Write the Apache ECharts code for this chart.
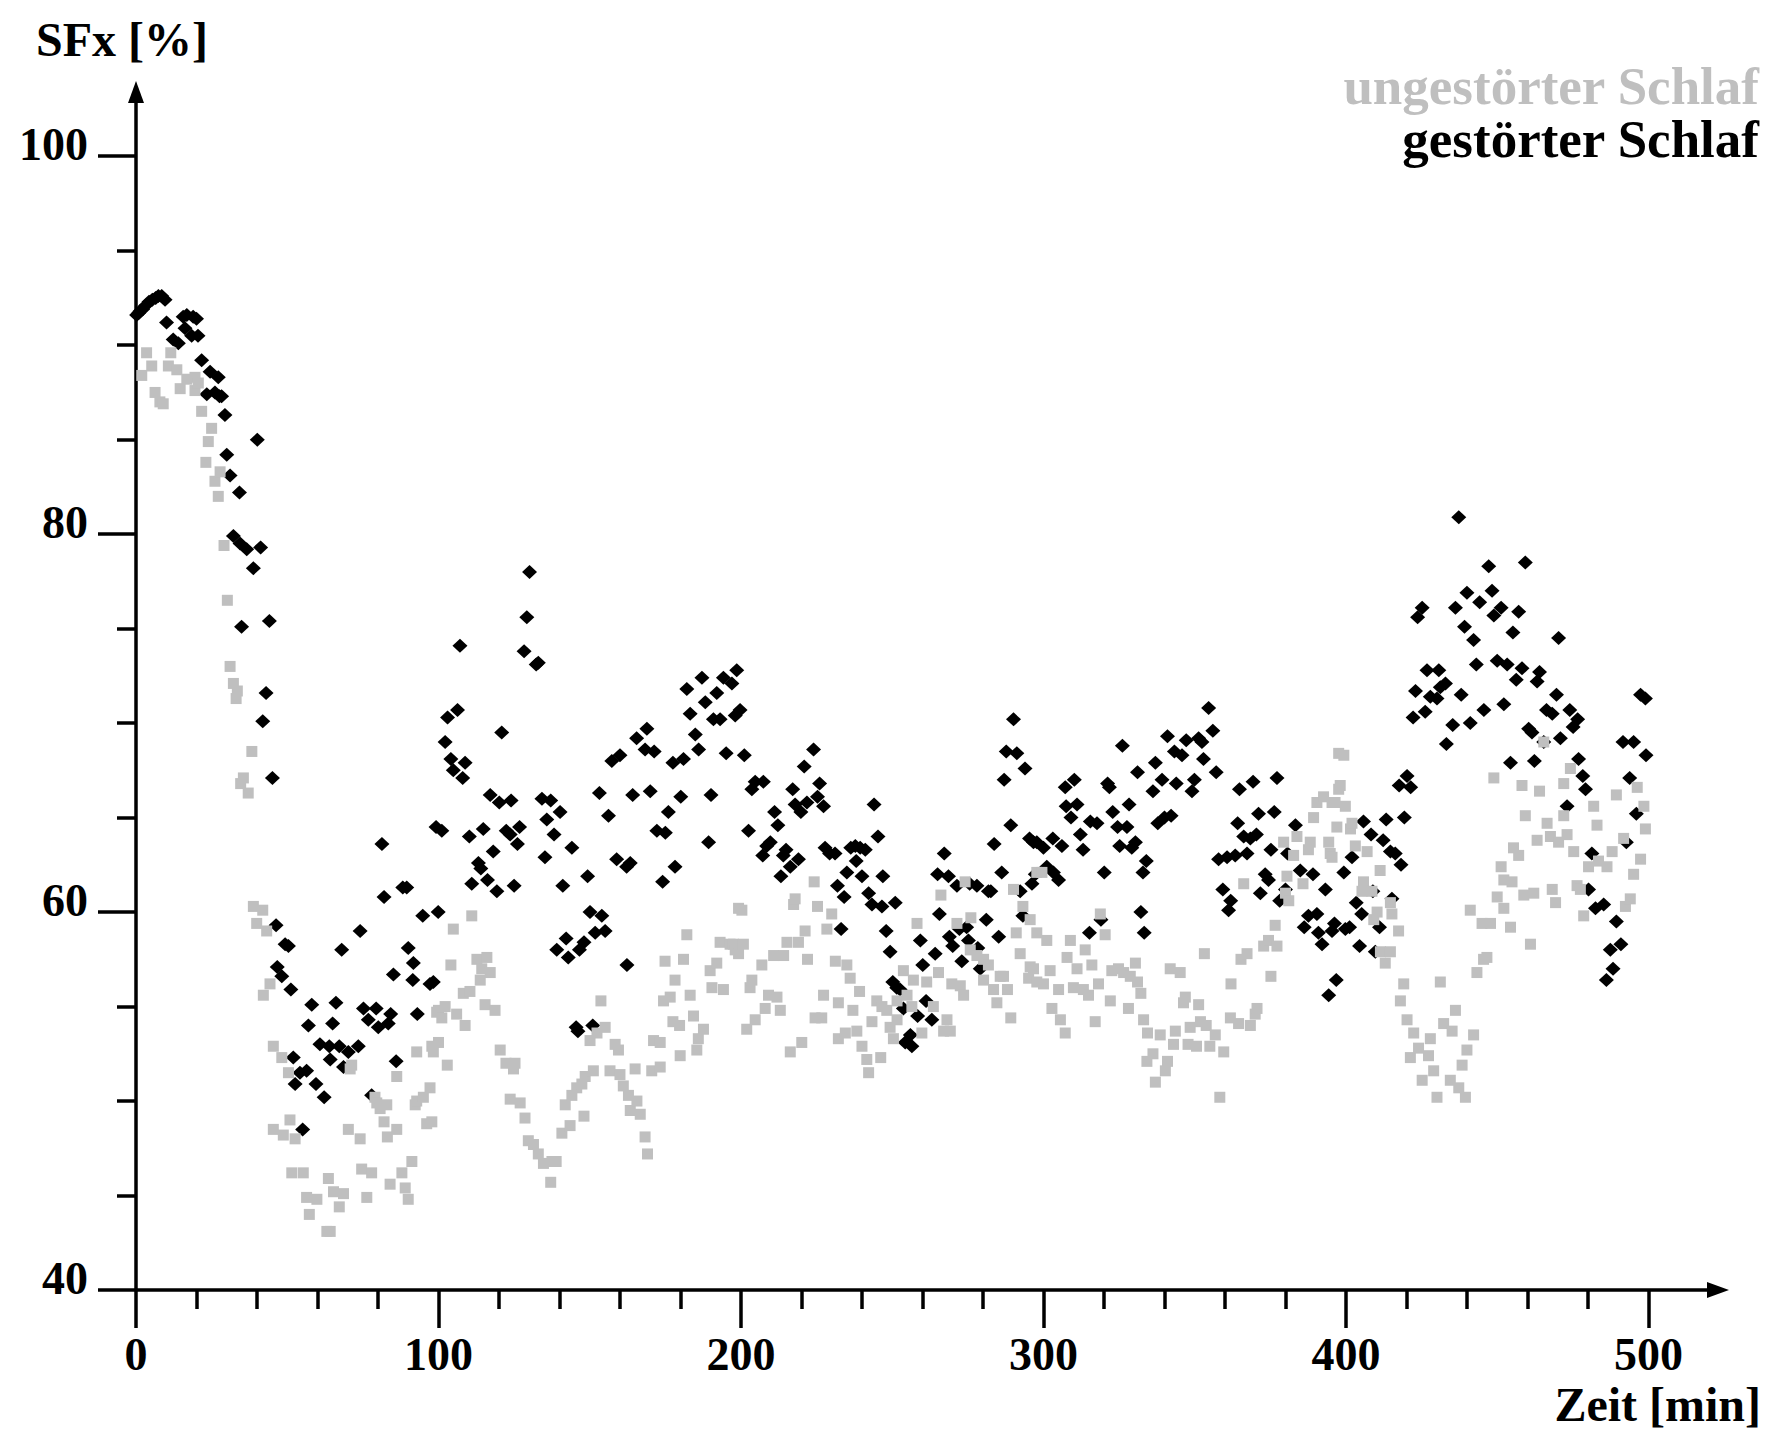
<!DOCTYPE html>
<html><head><meta charset="utf-8">
<script src="https://cdn.jsdelivr.net/npm/echarts@6/dist/echarts.min.js"></script>
<style>html,body{margin:0;padding:0;background:#fff}#c{width:1776px;height:1431px}</style>
</head><body><div id="c"></div>
<script>
const seriesNames = ['ungestörter Schlaf', 'gestörter Schlaf'];
const axisNames = { x: 'Zeit [min]', y: 'SFx [%]' };
const yMajorTicks = [40, 60, 80, 100];
const yMinorTicks = [45, 50, 55, 65, 70, 75, 85, 90, 95];
const xMajorTicks = [0, 100, 200, 300, 400, 500];
const xMinorTicks = [20, 40, 60, 80, 120, 140, 160, 180, 220, 240, 260, 280, 320, 340, 360, 380, 420, 440, 460, 480];

// gestörter Schlaf (black) [min, SFx %]
const gestoert = [
[0.2,91.6],[0.9,91.7],[1.3,91.8],[2.2,91.9],[3.2,92.1],[4.3,92.3],[5.4,92.4],[6.5,92.5],[7.4,92.6],[8.5,92.6],[9.6,92.4],
[10.1,91.2],[12.3,90.3],[14,90.1],[15.6,91.5],[16.2,90.9],[16.8,91.6],[18.4,90.5],[18.9,91.5],[20,91.4],[20.5,90.5],
[21.7,89.2],[23.4,87.4],[24.5,88.6],[26.1,87.5],[27.2,88.3],[27.6,87.3],[28.3,87.3],[29.4,86.3],[30,84.2],[31.1,83.1],
[32.2,79.9],[34.2,82.2],[34.4,79.5],[34.9,75.1],[36.6,79.2],[38.8,78.2],[40.1,85.0],[41.2,79.3],[41.9,70.1],[43,71.6],
[44.1,75.4],[45.1,67.1],[46.3,59.3],[46.7,57.1],[48.2,56.6],[49.3,58.3],[50.4,58.2],[51.2,55.9],[52,52.3],[52.6,50.9],
[54.2,51.5],[55.1,48.5],[56.4,51.6],[57,54.0],[58.1,55.1],[59.5,50.9],[60.8,53.0],[62.2,50.2],[63.9,52.9],[64.2,52.2],
[65,54.1],[66.1,55.2],[67.2,52.9],[68,58.0],[68.6,51.8],[70.2,52.6],[73.5,52.9],[74.1,59.0],[75.2,54.9],[76.8,54.3],
[77.9,50.3],[79.4,54.9],[80.1,53.9],[81.3,63.6],[82,60.8],[83.4,54.1],[84.2,54.6],[85.1,56.7],[86,52.1],[88.2,61.3],
[89.5,61.3],[90,58.1],[91.5,56.4],[91.7,57.3],[93,54.6],[94.8,59.8],[97.2,56.2],[98.3,56.3],[99.2,64.5],[99.9,60.0],
[101.1,64.3],[102.2,69.0],[103,70.3],[104.1,68.1],[104.9,67.5],[106.3,70.7],[107.1,74.1],[108,67.1],[108.8,67.9],[110.2,64.0],
[111,61.5],[113.2,62.6],[114,62.3],[114.8,64.4],[116.2,61.7],[117.1,66.2],[118.1,63.2],[119.3,61.1],[120.1,65.8],[120.9,69.5],
[122.4,64.3],[123.7,64.1],[124,65.9],[125,61.4],[126.1,63.6],[126.8,64.5],[128.3,73.8],[129.2,75.6],[130.1,78.0],[132.3,73.1],
[133,73.2],[134.2,66.0],[135.2,62.9],[135.8,64.9],[137.1,65.9],[138.2,64.1],[139.1,58.0],[140.2,65.3],[141.1,61.4],[142.2,58.6],
[142.9,57.6],[144.1,63.4],[145.5,53.9],[146.1,53.7],[146.6,58.0],[148.1,58.4],[149.3,61.9],[150.1,60.0],[151,54.0],[151.8,58.9],
[153.2,66.3],[154,59.8],[155.1,59.0],[156.2,65.1],[157.3,68.0],[158.9,62.8],[160,68.3],[162.2,62.4],[162.3,57.2],[163.4,62.6],
[164.2,66.2],[165.5,69.2],[168.3,68.6],[168.9,69.7],[170,66.4],[171.3,68.5],[172.2,64.3],[174.1,61.6],[175,64.2],[176,65.3],
[177.5,67.9],[178.2,62.4],[180.1,66.1],[181,68.1],[182.1,71.8],[183.2,70.5],[184.9,69.4],[186,68.6],[187.1,72.4],[188.2,71.1],
[189.3,63.7],[190.1,66.2],[190.9,70.2],[192,71.6],[193.1,70.2],[194.2,72.4],[195.1,68.4],[197,72.1],[198.1,70.4],[198.6,72.8],
[199.7,70.7],[201.1,68.3],[202.5,64.3],[203.6,66.5],[204.7,66.9],[207.2,63.0],[207.4,66.9],[208.5,63.5],[209.7,63.7],[211.1,65.3],
[212.2,64.6],[213.2,61.9],[214,63.0],[214.9,63.3],[216.3,62.4],[217.1,66.5],[217.9,65.7],[219,62.8],[219.8,65.3],[220.9,67.7],
[221.8,65.8],[224,68.6],[225.3,66.1],[226,66.8],[227.3,65.6],[227.8,63.4],[229.3,63.1],[231.1,63.1],[231.9,61.4],[233.1,59.1],
[234.1,60.8],[235,62.1],[236.3,63.4],[237.8,63.5],[238.1,62.7],[239.4,63.4],[240,61.9],[241.1,63.3],[242.2,61.0],[243.3,60.4],
[244,65.7],[245.3,64.0],[246.6,60.3],[246.9,61.9],[248,59.0],[249.3,57.9],[250.2,56.3],[251,60.5],[251.5,56.0],[252.6,55.9],
[253.7,54.9],[254.3,53.1],[256,53.5],[256.5,52.9],[258.4,54.5],[259.3,58.5],[260.1,57.2],[261.2,55.3],[263.1,54.3],[264.2,57.8],
[265,62.0],[265.6,59.9],[267.2,63.1],[268.6,61.9],[268.9,58.7],[270,58.2],[271.4,61.4],[272.2,59.1],[273,57.4],[274.6,59.2],
[275.2,58.5],[275.6,61.5],[278,61.4],[278.3,58.1],[279.1,57.0],[281.1,59.6],[281.8,61.1],[282.6,61.1],[283.7,63.6],[285.2,58.7],
[286.2,62.1],[287,67.0],[287.7,68.5],[289.2,64.6],[290.1,70.2],[291.2,68.4],[292.3,61.1],[293.2,59.8],[293.9,67.6],[295.4,63.9],
[296.2,61.5],[296.7,63.7],[297.3,62.0],[297.8,63.7],[300,63.4],[301.1,62.4],[303.1,63.9],[303.3,62.1],[305,61.7],[306.1,63.5],
[307.2,66.6],[307.5,65.6],[309.1,65.0],[310.2,67.0],[311.1,65.7],[312.2,64.1],[313.1,63.3],[315.2,58.9],[315.5,64.8],[317.7,64.7],
[319,59.6],[320.1,62.1],[321.2,66.8],[321.8,66.6],[322.9,65.3],[324.5,64.5],[325.2,63.5],[326.1,68.8],[327.6,64.5],[328.3,65.7],
[329.2,63.4],[330.4,63.7],[331.1,67.4],[332.2,60.0],[332.9,62.1],[333.3,58.9],[334,62.7],[336.2,66.4],[337,67.9],[337.8,64.7],
[339.2,67.0],[340,65.0],[341,69.3],[342.2,65.1],[343.3,68.5],[343.9,66.8],[345.8,68.3],[347.2,69.1],[349.1,66.4],[349.9,67.0],
[351.3,69.2],[352.4,69.0],[352.9,68.1],[354.6,70.8],[356,69.6],[357.1,67.4],[357.9,62.8],[359.3,61.2],[360.7,62.9],[361.2,60.1],
[361.9,60.6],[363.4,63.0],[364.2,64.7],[364.8,66.5],[366.2,64.0],[367.3,63.1],[368.4,63.9],[369.3,66.9],[370.4,64.1],[371.1,65.2],
[371.7,61.0],[373.3,62.0],[374.4,61.7],[375.2,63.3],[376.3,65.3],[377.2,67.1],[378.1,60.6],[380,61.2],[380.7,63.1],[383.3,64.6],
[384.9,62.2],[386.2,59.2],[387.6,59.8],[389.1,62.0],[390.4,59.9],[390.9,58.9],[392.1,58.3],[393.2,61.2],[394.3,55.6],[395.4,59.0],
[396.2,59.4],[396.8,56.4],[399.3,62.1],[399.8,59.1],[401.2,59.2],[402,62.9],[403.4,60.5],[404.5,58.2],[405.2,59.9],[405.8,64.8],
[408.3,64.1],[408.9,61.1],[409.7,57.9],[411.1,59.2],[412.3,63.8],[413.3,64.9],[414.7,63.2],[415.2,60.7],[416.3,63.1],[417.6,66.7],
[418.2,62.5],[419.3,65.0],[420.2,67.2],[421.4,66.6],[422.2,70.3],[423,71.7],[423.7,75.6],[425.2,76.1],[426.2,70.6],[426.8,72.8],
[427.9,71.4],[430.1,71.3],[430.7,72.8],[431.2,71.9],[432.9,72.1],[433.2,68.9],[435.3,69.9],[436.2,76.1],[437.3,80.9],[438.1,71.5],
[439.2,75.1],[440,76.9],[441.1,70.0],[442.2,74.4],[443.1,73.1],[444.2,76.4],[445.6,70.7],[447.2,78.3],[448.3,77.0],[448.9,75.7],
[450,73.3],[451.3,76.1],[452.2,71.0],[453.3,73.1],[454.4,67.9],[455.2,74.8],[456.3,72.3],[457.1,75.9],[458.2,72.9],[459.3,78.5],
[460.4,69.7],[461.5,69.5],[462.3,68.0],[463.2,72.2],[464,72.7],[465.4,69.0],[466.3,70.7],[468.2,70.5],[469.6,71.5],[470.3,74.5],
[470.9,69.2],[473.1,65.6],[474,70.7],[475.1,69.8],[476.6,70.2],[476.9,68.1],[478.3,67.2],[479.2,66.5],[480.2,61.2],[481.3,63.1],
[482.5,60.2],[485.2,60.4],[486.1,56.4],[487.4,58.0],[488.3,57.0],[489.4,59.5],[490.9,58.3],[491.6,69.0],[492.7,63.7],[493.8,67.1],
[495.1,69.0],[496,65.2],[497.4,71.5],[499,71.3],[499.2,68.3]
];

// ungestörter Schlaf (grey) [min, SFx %]
const ungestoert = [
[1.9,88.4],[3.5,89.6],[5.2,88.9],[6.3,87.5],[7.9,87.0],[9,86.9],[10.7,88.9],[11.5,89.6],[13.5,88.7],[14.6,87.7],
[16.8,88.2],[19.5,88.3],[19.5,87.6],[20.6,88.0],[21.7,86.5],[23.1,83.8],[23.9,84.9],[25,85.6],[26.1,82.8],[27.2,82.0],
[27.8,83.3],[29.1,79.4],[30.2,76.5],[31.1,73.0],[32.2,72.1],[33.1,71.3],[33.5,71.7],[34.6,66.8],[35.5,67.1],[37.1,66.3],
[38.3,68.5],[38.8,60.3],[39.9,59.4],[41.9,60.1],[42.1,55.6],[43.2,59.0],[44.3,56.2],[45.4,52.9],[45.4,48.5],[48.2,52.3],
[48.7,48.2],[50.4,51.5],[50.9,49.0],[51.5,46.2],[52.6,48.0],[55.3,46.2],[56.4,44.9],[57.3,44.0],[59.8,44.8],[63.1,43.1],
[63.6,45.9],[64.2,43.1],[65.3,45.2],[67.2,44.4],[68.6,45.1],[70.2,48.5],[70.8,51.7],[71.3,51.9],[74.1,48.0],[74.6,46.4],
[76.3,44.9],[77.9,46.2],[79,50.2],[79.6,49.9],[80.7,49.6],[82,48.9],[82.9,49.8],[83.1,48.1],[84,45.6],[86.2,51.3],
[86.2,48.5],[87.9,46.2],[89,45.4],[90,44.8],[91.2,46.8],[92.3,49.8],[92.8,52.6],[92.8,50.0],[95,50.2],[96.1,48.8],
[97.2,50.7],[97.8,52.9],[97.8,48.9],[98.3,52.6],[99.4,54.7],[100,54.8],[100,53.1],[101.1,54.4],[102.2,55.0],[102.9,51.9],
[104.1,57.2],[104.9,59.1],[106,54.6],[108.2,55.7],[108.8,54.0],[110.4,55.8],[111,59.8],[112.7,57.5],[113.8,56.4],[114.3,57.0],
[115.4,55.1],[116,57.6],[117.1,56.8],[118.7,54.8],[120.4,52.7],[122.3,52.0],[123.7,50.1],[124.8,51.7],[125.3,52.0],[127,49.9],
[128.6,49.1],[129.7,47.9],[131.4,47.7],[133,47.2],[134.7,46.7],[137.1,45.7],[137.5,46.8],[138.9,46.8],[140.8,48.3],[141.9,49.8],
[143.5,48.7],[144.1,50.3],[145.7,50.7],[147.4,50.9],[148.1,49.2],[148.5,51.3],[150.1,53.2],[151.2,51.6],[152.4,53.6],[153.7,55.3],
[155.1,53.9],[156.7,51.6],[158.4,53.0],[159.5,52.7],[160,51.4],[161.1,50.8],[162.8,50.3],[163.4,49.5],[165,51.7],[165.6,50.0],
[166.7,49.3],[168.3,48.1],[169.1,47.2],[170.5,51.6],[171.1,53.2],[173.3,53.1],[173.3,51.8],[174.4,55.3],[174.9,57.4],[176.6,55.5],
[177.5,54.2],[178.2,56.4],[179.7,54.0],[179.9,52.4],[181,57.5],[182.1,58.8],[183.2,55.6],[184.3,54.5],[185.4,52.7],[185.9,53.3],
[187.6,53.8],[189.8,56.9],[190.4,56.0],[192,57.3],[193.1,58.4],[194.2,55.9],[196.4,58.3],[197.5,58.3],[198.1,58.0],[199.2,60.2],
[199.2,57.8],[200.3,60.1],[200.8,58.3],[201.9,53.8],[203,56.0],[203.6,56.4],[204.7,54.3],[206.9,57.2],[208,54.9],[209.1,55.6],
[210.8,57.7],[211.9,55.5],[213,54.8],[214.1,57.7],[215.2,58.4],[216.3,52.6],[217.4,60.4],[217.9,60.7],[219,58.4],[220.1,53.1],
[221.2,59.0],[222,57.5],[224.2,61.6],[224.5,54.4],[225.3,60.3],[226.7,54.4],[227.3,55.6],[228.4,59.1],[230,59.9],[231.2,57.4],
[232.2,55.2],[232.2,53.3],[234.5,53.6],[235,57.2],[236.1,56.5],[237,54.8],[238.3,53.7],[239.2,55.8],[240,52.9],[241.6,52.2],
[242.2,51.5],[243.3,54.2],[244.9,55.3],[246.2,52.3],[246.6,55.0],[248.2,54.8],[249.3,53.9],[250.4,53.3],[251.6,55.3],[251.6,54.3],
[253.7,56.9],[254.9,55.6],[256.5,55.0],[257,56.4],[258.2,59.4],[259.8,53.6],[261.4,56.3],[263.6,55.0],[265.3,56.8],[266.1,60.9],
[267,53.7],[268.1,54.3],[269.2,53.7],[269.7,56.2],[271.4,59.4],[272.5,56.1],[273.6,55.6],[274.1,61.6],[275.8,58.0],[276,59.7],
[278,57.7],[280.2,57.5],[280.2,56.4],[281.8,57.2],[283.5,55.9],[284.6,55.2],[285.7,56.6],[286.8,56.6],[288.1,55.9],[289.2,54.4],
[290.1,61.2],[291,58.9],[292.3,57.8],[293.2,60.3],[295.1,56.5],[295.6,57.1],[295.6,59.6],[296.7,57.0],[297.8,62.1],[297.8,58.9],
[297.8,56.3],[299.5,62.1],[300,56.2],[301.1,58.5],[302.2,56.9],[302.8,54.9],[305,55.9],[305.6,54.3],[307.2,53.6],[307.8,57.6],
[308.9,58.5],[309.9,56.0],[311.1,57.0],[313.2,55.9],[313.8,58.0],[314.9,55.6],[316,57.2],[317.1,54.2],[318.2,56.2],[318.8,59.9],
[320.4,58.8],[322.1,55.3],[322.6,56.9],[324.8,57.0],[326.5,56.8],[328.1,54.9],[328.7,56.6],[330.4,57.3],[331.1,56.3],[332.2,55.7],
[333.1,54.3],[334.2,52.1],[334.4,53.6],[336.2,52.5],[337,51.0],[338.6,53.5],[340.3,51.6],[341,52.1],[341.9,57.0],[343,53.0],
[343.6,53.7],[345.2,56.8],[346.3,55.2],[346.9,55.5],[347.8,53.0],[348.5,53.9],[350.6,52.9],[351.3,55.1],[351.9,54.2],[353.2,57.8],
[353.8,54.0],[355,52.9],[356.8,53.5],[358.3,50.2],[359.6,52.6],[361.8,54.4],[362,56.2],[364.5,54.1],[365.3,57.5],[366.2,61.5],
[367.3,57.8],[368.4,54.0],[370,54.6],[370.6,54.9],[372.8,58.2],[374.4,58.5],[375.2,56.6],[376.6,59.3],[377.2,58.2],[379.4,63.7],
[380,61.0],[380.5,61.9],[381.1,60.6],[382.7,63.0],[383.8,64.0],[385.8,61.5],[387.6,63.3],[388.2,63.7],[389.3,65.0],[390.4,65.8],
[392.6,66.1],[394.3,63.7],[394.8,63.1],[395.4,65.8],[395.4,62.9],[396.4,65.8],[397,64.5],[397.6,66.5],[397.6,68.4],[398.1,66.7],
[399.3,68.3],[399.8,65.6],[401.5,64.4],[402,64.7],[403.1,63.5],[405.3,61.1],[405.8,61.6],[407,63.2],[408.6,61.1],[409.2,59.6],
[410.3,60.0],[411.3,62.2],[411.4,57.9],[413,57.3],[414.7,60.5],[414.7,57.9],[415.2,59.9],[417.4,59.0],[418,55.3],[419.1,56.2],
[420.2,54.3],[421.3,52.3],[422.4,53.6],[424,52.8],[425.2,51.1],[427.3,52.4],[427.9,53.3],[429,51.6],[430.1,50.2],[431.2,56.3],
[432.3,54.1],[434.5,51.1],[435.1,53.7],[436.2,54.8],[437.3,50.7],[438.4,51.9],[439.5,50.2],[440,52.7],[441.1,60.1],[442.2,53.5],
[443.3,56.8],[445,59.4],[445.5,57.5],[446.6,57.6],[447.8,59.4],[448.9,67.1],[450,60.8],[451.3,62.4],[452.2,61.7],[452.2,60.2],
[454.4,59.2],[454.9,61.6],[455.4,63.4],[457.1,63.0],[458.2,66.7],[458.8,60.9],[459.3,65.1],[461,58.3],[462.1,61.0],[463.2,63.8],
[464,66.4],[465.4,69.0],[466.5,64.7],[467.6,64.0],[468.2,61.2],[469.3,60.5],[470.3,63.7],[472,65.1],[472,66.8],[473.1,64.1],
[474.2,67.6],[475.3,63.2],[476.4,61.4],[477.5,61.2],[478.6,59.8],[480.2,62.4],[481.9,65.6],[483,64.6],[483.5,62.7],[486.3,62.4],
[488,63.2],[489.4,66.2],[491.8,63.9],[492.4,60.3],[494,60.7],[495.1,62.0],[496.3,66.6],[497.4,62.8],[498.5,65.6],[499,64.4]
];

const FONT = '"Liberation Serif", "Times New Roman", Times, serif';
const chart = echarts.init(document.getElementById('c'), null, { renderer: 'svg' });
const axisCommon = { color: '#000', width: 3.5 };

chart.setOption({
  animation: false,
  backgroundColor: '#fff',
  grid: { left: 136, right: 58, top: 92, bottom: 141 },
  legend: {
    orient: 'vertical', right: 7, top: 54, align: 'right',
    itemWidth: 0, itemHeight: 0, itemGap: 0, icon: 'rect',
    itemStyle: { opacity: 0 }, selectedMode: false,
    data: [
      { name: seriesNames[0], textStyle: { color: '#bfbfbf' } },
      { name: seriesNames[1], textStyle: { color: '#000' } }
    ],
    textStyle: { fontFamily: FONT, fontWeight: 'bold', fontSize: 53, lineHeight: 47 }
  },
  xAxis: [{
    type: 'value', min: 0, max: 523, position: 'bottom',
    axisLine: { show: true, onZero: false, lineStyle: axisCommon, symbol: ['none', 'triangle'], symbolSize: [16, 22] },
    axisTick: { show: true, customValues: xMajorTicks, length: 38, lineStyle: axisCommon },
    axisLabel: { customValues: xMajorTicks, margin: 41, fontFamily: FONT, fontWeight: 'bold', fontSize: 46, color: '#000' },
    splitLine: { show: false },
    name: axisNames.x, nameLocation: 'end', nameGap: 43,
    nameTextStyle: { fontFamily: FONT, fontWeight: 'bold', fontSize: 48, color: '#000', align: 'right', verticalAlign: 'top', padding: [90, 0, 0, 0] }
  }, {
    type: 'value', min: 0, max: 523, position: 'bottom',
    axisLine: { show: false, onZero: false },
    axisTick: { show: true, customValues: xMinorTicks, length: 19, lineStyle: axisCommon },
    axisLabel: { show: false }, splitLine: { show: false }
  }],
  yAxis: [{
    type: 'value', min: 40, max: 103.4, position: 'left',
    axisLine: { show: true, onZero: false, lineStyle: axisCommon, symbol: ['none', 'triangle'], symbolSize: [16, 22] },
    axisTick: { show: true, customValues: yMajorTicks, length: 38, lineStyle: axisCommon },
    axisLabel: { customValues: yMajorTicks, margin: 48, fontFamily: FONT, fontWeight: 'bold', fontSize: 46, color: '#000', verticalAlign: 'bottom', lineHeight: 24 },
    splitLine: { show: false },
    name: axisNames.y, nameLocation: 'end', nameGap: 29,
    nameTextStyle: { fontFamily: FONT, fontWeight: 'bold', fontSize: 48, color: '#000', align: 'center', verticalAlign: 'bottom', padding: [0, 28, 0, 0] }
  }, {
    type: 'value', min: 40, max: 103.4, position: 'left',
    axisLine: { show: false, onZero: false },
    axisTick: { show: true, customValues: yMinorTicks, length: 19, lineStyle: axisCommon },
    axisLabel: { show: false }, splitLine: { show: false }
  }],
  series: [{
    name: seriesNames[1], type: 'scatter', xAxisIndex: 0, yAxisIndex: 0,
    symbol: 'diamond', symbolSize: [15, 14],
    itemStyle: { color: '#000', opacity: 1 }, data: gestoert, z: 2
  }, {
    name: seriesNames[0], type: 'scatter', xAxisIndex: 0, yAxisIndex: 0,
    symbol: 'rect', symbolSize: 11,
    itemStyle: { color: '#bfbfbf', opacity: 1 }, data: ungestoert, z: 3
  }]
});
</script></body></html>
